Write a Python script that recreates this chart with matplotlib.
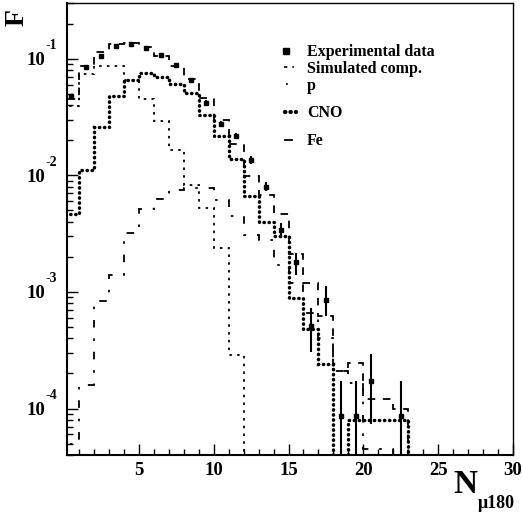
import numpy as np
import matplotlib
matplotlib.use('Agg')
from matplotlib import pyplot as plt
from matplotlib.ticker import MultipleLocator, LogLocator, NullFormatter, FixedLocator

plt.rcParams['font.family'] = ['Liberation Serif', 'DejaVu Serif']
plt.rcParams['font.weight'] = 'bold'

# histogram binning: unit bins from 0 to 24
edges = np.arange(0, 25)

# simulated composition (sum of components)
sim = [0.045, 0.086, 0.113, 0.134, 0.135, 0.125, 0.106, 0.087, 0.067, 0.046,
       0.030, 0.0185, 0.0098, 0.0068, 0.0047, 0.0021, 0.0012, 0.00062, 0.00021,
       0.000247, 0.00012, 0.00012, 0.0001, 0]
p_comp = [0.039, 0.074, 0.086, 0.086, 0.066, 0.045, 0.029, 0.0166, 0.0083, 0.0052,
          0.0024, 0.00029, 0, 0, 0, 0, 0, 0, 0, 0, 0, 0, 0, 0]
cno = [0.0047, 0.011, 0.026, 0.048, 0.065, 0.075, 0.070, 0.061, 0.051, 0.033,
       0.0216, 0.0137, 0.0067, 0.0040, 0.0030, 0.00089, 0.00048, 0.00024, 0,
       8e-5, 8e-5, 8e-5, 8e-5, 0]
fe = [5e-5, 0.000158, 0.00083, 0.0014, 0.0032, 0.0051, 0.0063, 0.0075, 0.0078, 0.0078,
      0.0062, 0.0045, 0.0031, 0.0028, 0.0017, 0.0012, 0.00066, 0.0004, 0.00021,
      0.000166, 4.5e-5, 4.5e-5, 2e-5, 0]

# experimental data (bin centres, value, lower / upper error)
exp_x = [0.5, 1.5, 2.5, 3.5, 4.5, 5.5, 6.5, 7.5, 8.5, 9.5, 10.5, 11.5, 12.5, 13.5,
         14.5, 15.5, 16.5, 17.5, 18.5, 19.5, 20.5, 22.5]
exp_y = [0.048, 0.084, 0.106, 0.128, 0.134, 0.124, 0.108, 0.089, 0.066, 0.042,
         0.0275, 0.0216, 0.0136, 0.0080, 0.0034, 0.0018, 0.000515, 0.00086,
         8.6e-5, 8.6e-5, 0.000174, 8.6e-5]
exp_lo = [0.002, 0.003, 0.003, 0.003, 0.003, 0.003, 0.003, 0.003, 0.002, 0.002,
          0.0015, 0.0013, 0.001, 0.0007, 0.0005, 0.00039, 0.00021, 0.00024,
          8.6e-5, 8.6e-5, 0.0001, 8.6e-5]
exp_hi = [0.002, 0.003, 0.003, 0.003, 0.003, 0.003, 0.003, 0.003, 0.002, 0.002,
          0.0015, 0.0013, 0.001, 0.0007, 0.0005, 0.00036, 0.00022, 0.00026,
          8.6e-5, 8.6e-5, 0.00012, 8.6e-5]

fig = plt.figure(figsize=(5.23, 5.19), dpi=100)
ax = fig.add_axes([67/523, 1 - 455/519, 446/523, 452/519])
ax.set_yscale('log', nonpositive='clip')

sim_ls = (0, (4.2, 4.2))
p_ls = (0, (1.4, 2.9))
cno_ls = (0, (0.1, 1.35))
fe_ls = (0, (4.2, 6, 1.4, 6))

ax.stairs(sim, edges, color='black', lw=1.3, linestyle=sim_ls)
ax.stairs(p_comp, edges, color='black', lw=1.3, linestyle=p_ls)
l = ax.stairs(cno, edges, color='black', lw=2.5, linestyle=cno_ls)
l.set_capstyle('round')
ax.stairs(fe, edges, color='black', lw=1.3, linestyle=fe_ls)
ax.errorbar(exp_x, exp_y, yerr=[exp_lo, exp_hi], fmt='s', color='black',
            ms=3.3, elinewidth=1.5, capsize=0)

ax.set_xlim(0.2, 30)
ax.set_ylim(4e-5, 0.3)

ax.xaxis.set_major_locator(MultipleLocator(5))
ax.xaxis.set_minor_locator(MultipleLocator(1))
ax.yaxis.set_major_locator(FixedLocator([1e-4, 1e-3, 1e-2, 1e-1]))
ax.yaxis.set_minor_locator(LogLocator(base=10, subs=np.arange(2, 10)))
ax.yaxis.set_major_formatter(NullFormatter())
ax.yaxis.set_minor_formatter(NullFormatter())
ax.tick_params(which='both', direction='in', top=False, right=False)
ax.tick_params(which='major', length=8, width=1)
ax.tick_params(which='minor', length=4, width=1)
ax.tick_params(axis='x', labelsize=13.5, pad=5)
for s in ax.spines.values():
    s.set_linewidth(1)
ax.spines['left'].set_linewidth(1.5)
ax.spines['bottom'].set_linewidth(1.5)

# y tick labels in ROOT style: "10" with a high exponent
for d in [-4, -3, -2, -1]:
    ax.annotate('10', xy=(0, 10.0**d), xycoords=('axes fraction', 'data'),
                xytext=(-22, -2), textcoords='offset pixels',
                ha='right', va='center', fontsize=13.5, fontweight='bold')
    ax.annotate(str(d), xy=(0, 10.0**d), xycoords=('axes fraction', 'data'),
                xytext=(-21, 13), textcoords='offset pixels',
                ha='left', va='center', fontsize=10, fontweight='bold')

# axis titles
fig.text(478/523, 1 - 493/519, 'N', ha='right', va='baseline',
         fontsize=24, fontweight='bold')
fig.text(478/523, 1 - 508/519, 'μ180', ha='left', va='baseline', fontsize=13,
         fontweight='bold')
fig.text(17/523, 1 - 17/519, 'F', rotation=90, ha='center', va='center',
         fontsize=20, fontweight='bold')

# legend
def ax_xy(px, py):
    return (px - 67) / 446, 1 - (py - 3) / 452

tx = ax_xy(307, 0)[0]
entries = [('Experimental data', 56), ('Simulated comp.', 73), ('p', 90),
           ('CNO', 117), ('Fe', 145)]
for label, py in entries:
    ax.text(tx, ax_xy(0, py)[1], label, transform=ax.transAxes, ha='left',
            va='baseline', fontsize=11.5, fontweight='bold')

x0, y0 = ax_xy(286, 51)
ax.plot([x0], [y0], 's', color='black', ms=4.2, transform=ax.transAxes, clip_on=False)
xa, ya = ax_xy(284, 67)
xb, _ = ax_xy(294, 67)
ax.plot([xa, xb], [ya, ya], color='black', lw=1.2, linestyle=(0, (2, 3)),
        transform=ax.transAxes)
xa, ya = ax_xy(286, 84)
xb, _ = ax_xy(295, 84)
ax.plot([xa, xb], [ya, ya], color='black', lw=1.3, linestyle=(0, (1, 4.5)),
        transform=ax.transAxes)
xa, ya = ax_xy(285, 112)
xb, _ = ax_xy(296, 112)
ax.plot([xa, xb], [ya, ya], color='black', lw=3, linestyle=(0, (0.1, 1.2)),
        dash_capstyle='round', transform=ax.transAxes)
xa, ya = ax_xy(285, 140)
xb, _ = ax_xy(292, 140)
ax.plot([xa, xb], [ya, ya], color='black', lw=1.3, transform=ax.transAxes)

fig.savefig('out.png', dpi=100)
